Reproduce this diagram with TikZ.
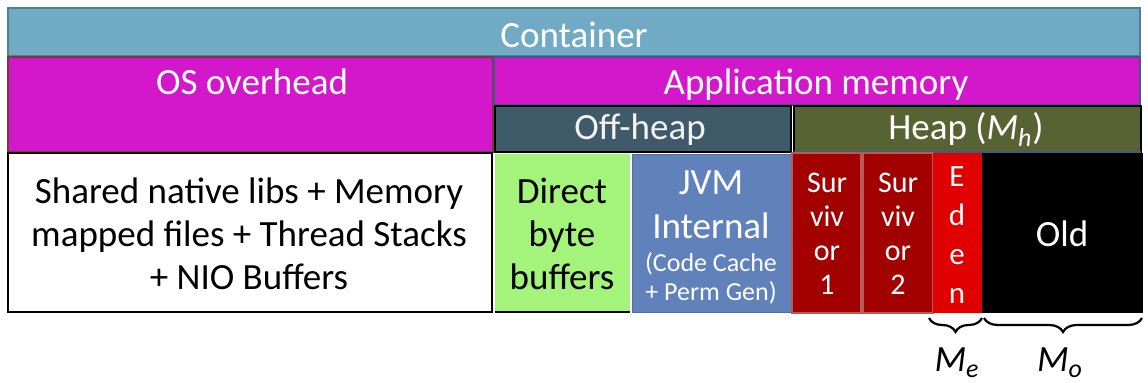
\documentclass[tikz,border=0pt]{standalone}
\usepackage{fontspec}
\setmainfont{Carlito}
\usetikzlibrary{decorations.pathreplacing}

\definecolor{contfill}{HTML}{71AAC5}
\definecolor{contline}{HTML}{4F7E95}
\definecolor{osfill}{HTML}{D318CB}
\definecolor{osline}{HTML}{7A3A3A}
\definecolor{appline}{HTML}{3F5A8A}
\definecolor{offfill}{HTML}{3F5A68}
\definecolor{heapfill}{HTML}{586333}
\definecolor{dbbfill}{HTML}{A4F47B}
\definecolor{jvmfill}{HTML}{6181BB}
\definecolor{jvmline}{HTML}{4F6FA0}
\definecolor{survfill}{HTML}{A30000}
\definecolor{survline}{HTML}{B85A5A}
\definecolor{edenfill}{HTML}{E00000}
\definecolor{lighttext}{HTML}{F2F2F2}

\begin{document}
\begin{tikzpicture}[x=0.5pt,y=-0.5pt,
  area/.style={rectangle, inner sep=0pt, outer sep=0pt, anchor=north west},
  big/.style={font=\fontsize{18.5}{21.5}\selectfont},
  small/.style={font=\fontsize{15}{17}\selectfont},
  note/.style={font=\fontsize{13}{14.5}\selectfont},
  txt/.style={inner sep=0pt, align=center},
  bracepath/.style={decorate, decoration={brace, mirror, amplitude=7pt}, line width=1.1pt}]
\useasboundingbox (0,0) rectangle (1148,383);

% top level: container
\node[area, fill=contfill, draw=contline, line width=1pt,
      minimum width=566pt, minimum height=24pt] (cont) at (8,8) {};
\node[txt, big, text=white, anchor=base] (contlbl) at (574,48) {Container};

% second level: OS overhead and application memory
\node[area, fill=osfill, draw=osline, line width=1.3pt,
      minimum width=242.5pt, minimum height=47.5pt] (os) at (8,57) {};
\node[txt, big, text=white, anchor=base] (oslbl) at (252,95) {OS overhead};
\node[area, fill=osfill, draw=appline, line width=0.6pt,
      minimum width=323pt, minimum height=24pt] (app) at (494,57) {};
\node[txt, big, text=white, anchor=base] (applbl) at (816,95) {Application memory};

% third level: off-heap and heap
\node[area, fill=offfill, draw=black, line width=0.8pt,
      minimum width=148pt, minimum height=23pt] (off) at (495,106) {};
\node[txt, big, text=lighttext, anchor=base] (offlbl) at (640,140) {Off-heap};
\node[area, fill=heapfill, draw=black, line width=0.8pt,
      minimum width=173.5pt, minimum height=23pt] (heap) at (794,106) {};
\node[txt, big, text=white, anchor=base] (heaplbl) at (966,140)
      {Heap (\textit{M\textsubscript{h}})};
\draw[appline, line width=0.6pt] (heap.south west) -- (heap.south east);

% bottom row: memory regions
\node[area, fill=white, draw=black, line width=1.3pt,
      minimum width=242pt, minimum height=79.5pt] (native) at (8,153) {};
\node[txt, big] (nativelbl) at (249,234)
      {Shared native libs + Memory\\mapped files + Thread Stacks\\+ NIO Buffers};

\node[area, fill=dbbfill, minimum width=67.5pt, minimum height=79pt] (dbb) at (495,154) {};
\draw[black, line width=1.3pt] (dbb.south west) -- (dbb.south east);
\node[txt, big] (dbblbl) at (562,234) {Direct\\byte\\buffers};

\node[area, fill=jvmfill, draw=jvmline, line width=0.5pt,
      minimum width=79.5pt, minimum height=79pt] (jvm) at (632,155) {};
\node[txt, big, text=white] (jvmlbl) at (711,205) {JVM\\[0.5pt]Internal};
\node[txt, note, text=white] (jvmnote) at (711,278) {(Code Cache\\+ Perm Gen)};

\node[area, fill=survfill, draw=survline, line width=1pt,
      minimum width=34.5pt, minimum height=80pt] (s1) at (792,153) {};
\node[txt, small, text=white] (s1lbl) at (827,234) {Sur\\viv\\or\\1};
\node[area, fill=survfill, draw=survline, line width=1pt,
      minimum width=35pt, minimum height=80pt] (s2) at (863,153) {};
\node[txt, small, text=white] (s2lbl) at (898,234) {Sur\\viv\\or\\2};

\node[area, fill=edenfill, minimum width=24.5pt, minimum height=80pt] (eden) at (933,153) {};
\node[txt, font=\fontsize{15.5}{19.5}\selectfont, text=white] (edenlbl) at (957,235) {E\\d\\e\\n};

\node[area, fill=black, minimum width=80.5pt, minimum height=80pt] (old) at (982,153) {};
\node[txt, big, text=white, anchor=base] (oldlbl) at (1062,247) {Old};

% braces with the sizes of eden and old space
\draw[bracepath] ([xshift=-2pt,yshift=-2.5pt]eden.south west) -- ([yshift=-2.5pt]eden.south east);
\draw[bracepath] ([xshift=1pt,yshift=-2.5pt]old.south west) -- ([xshift=-0.5pt,yshift=-2.5pt]old.south east);
\node[txt, big, anchor=base] (me) at (957,372) {\textit{M\textsubscript{e}}};
\node[txt, big, anchor=base] (mo) at (1060,372) {\textit{M\textsubscript{o}}};
\end{tikzpicture}
\end{document}
